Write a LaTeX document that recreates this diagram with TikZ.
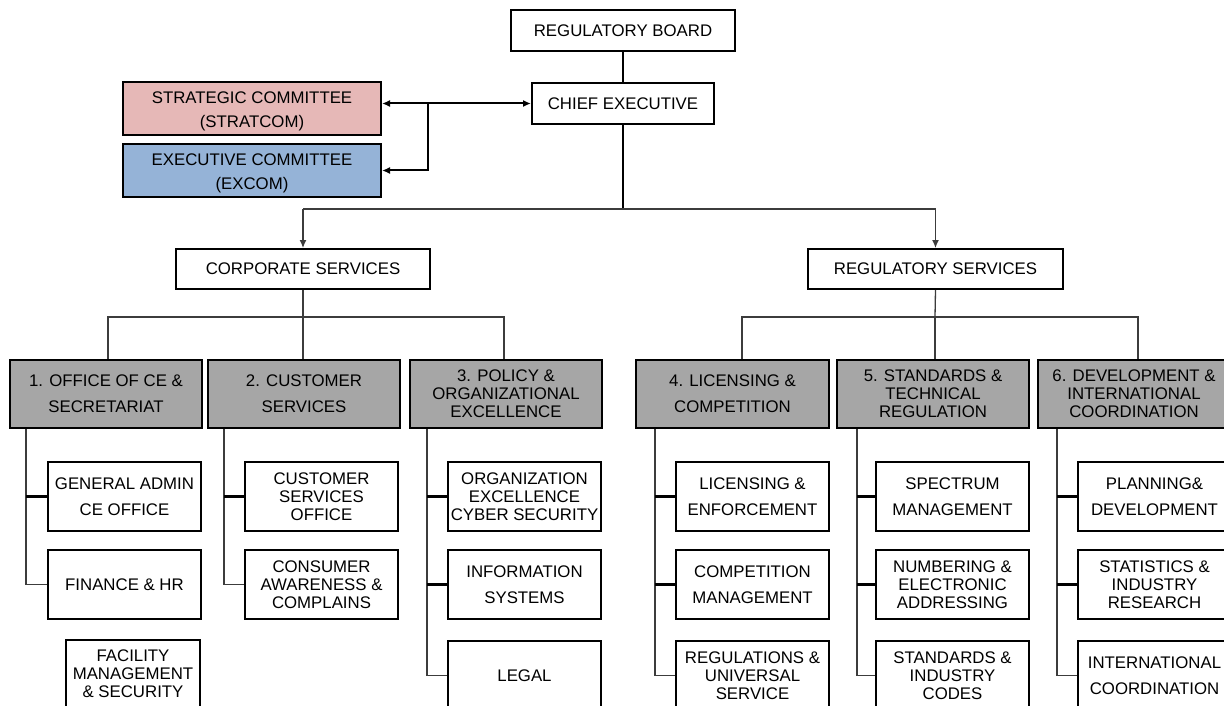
\documentclass[tikz,border=0pt]{standalone}
\usepackage{fontspec}
\setmainfont{Liberation Sans}
\usetikzlibrary{arrows.meta}
\definecolor{unitgray}{HTML}{A6A6A6}
\definecolor{stratpink}{HTML}{E6B8B7}
\definecolor{excomblue}{HTML}{95B3D7}
\definecolor{linegray}{HTML}{3C3C3C}
\newcommand{\boxfont}{\fontsize{16.8}{18}\selectfont}
\tikzset{
  box/.style={draw=black, line width=2pt, fill=white, inner sep=0pt,
              align=center, font=\boxfont, text height=, text depth=},
  unit/.style={box, fill=unitgray, minimum width=192pt, minimum height=68pt},
  sub/.style={box, minimum width=153pt, minimum height=69pt},
  conn/.style={draw=linegray, line width=1.3pt},
  bold/.style={draw=black, line width=2pt},
  stub/.style={draw=black, line width=2.4pt},
  tip/.style={-{Latex[length=8pt,width=7pt]}},
  tips/.style={{Latex[length=8pt,width=7pt]}-{Latex[length=8pt,width=7pt]}}
}
\begin{document}
\begin{tikzpicture}[x=1pt,y=-1pt]
\useasboundingbox (0,0) rectangle (1224,706);
\clip (0,0) rectangle (1224,706);

% top of the chart
\node[box, minimum width=224pt, minimum height=41pt] (rb) at (623,30.5) {REGULATORY BOARD};
\node[box, minimum width=182pt, minimum height=41pt] (ce) at (623,103.5) {CHIEF EXECUTIVE};
\node[box, fill=stratpink, minimum width=258pt, minimum height=53pt] (strat) at (252,108.5)
  {\rule{0pt}{18pt}STRATEGIC COMMITTEE\\[6pt](STRATCOM)};
\node[box, fill=excomblue, minimum width=258pt, minimum height=53pt] (excom) at (252,170.5)
  {\rule{0pt}{18pt}EXECUTIVE COMMITTEE\\[6pt](EXCOM)};

\draw[bold] (rb.south) -- (ce.north);
\coordinate (j) at (428,103.5);
\draw[bold, tips] (strat.east |- ce.west) -- (ce.west);
\draw[bold, tip] (j) |- (excom.east);

% the two service groups
\node[box, minimum width=254pt, minimum height=40pt] (cs) at (303,269) {CORPORATE SERVICES};
\node[box, minimum width=255pt, minimum height=40pt] (rs) at (935.5,269) {REGULATORY SERVICES};

\coordinate (split) at (623,209);
\draw[bold] (ce.south) -- (split);
\draw[conn] (cs.north |- split) -- (rs.north |- split);
\draw[conn, tip] (cs.north |- split) -- (cs.north);
\draw[conn, tip] (rs.north |- split) -- (rs.north);

% departments
\node[unit] (u1) at (106,394) {1. OFFICE OF CE \&\\[8pt]SECRETARIAT};
\node[unit] (u2) at (304,394) {2. CUSTOMER\\[8pt]SERVICES};
\node[unit] (u3) at (506,394) {3. POLICY \&\\ORGANIZATIONAL\\EXCELLENCE};
\node[unit, minimum width=193pt] (u4) at (732.5,394) {4. LICENSING \&\\[8pt]COMPETITION};
\node[unit] (u5) at (933,394) {5. STANDARDS \&\\TECHNICAL\\REGULATION};
\node[unit] (u6) at (1134,394) {6. DEVELOPMENT \&\\INTERNATIONAL\\COORDINATION};

\coordinate (b1) at (108,317);
\coordinate (b2) at (303,317);
\coordinate (b3) at (504,317);
\coordinate (b4) at (742,317);
\coordinate (b5) at (935,317);
\coordinate (b6) at (1138,317);
\draw[conn] (cs.south) -- (b2);
\draw[conn] (rs.south) -- (b5);
\draw[conn] (b1 |- u1.north) |- (b3) -- (b3 |- u3.north);
\draw[conn] (b2) -- (b2 |- u2.north);
\draw[conn] (b4 |- u4.north) |- (b6) -- (b6 |- u6.north);
\draw[conn] (b5) -- (b5 |- u5.north);

% sections
\node[sub] (s1a) at (124.5,496.5) {GENERAL ADMIN\\[8pt]CE OFFICE};
\node[sub] (s1b) at (124.5,584.5) {FINANCE \& HR};
\node[sub, minimum width=134pt] (s1c) at (133,674) {FACILITY\\MANAGEMENT\\\& SECURITY};

\node[sub] (s2a) at (321.5,496.5) {CUSTOMER\\SERVICES\\OFFICE};
\node[sub] (s2b) at (321.5,584.5) {CONSUMER\\AWARENESS \&\\COMPLAINS};

\node[sub] (s3a) at (524.5,496.5) {ORGANIZATION\\EXCELLENCE\\CYBER SECURITY};
\node[sub] (s3b) at (524.5,584.5) {INFORMATION\\[8pt]SYSTEMS};
\node[sub] (s3c) at (524.5,675.5) {LEGAL};

\node[sub] (s4a) at (752.5,496.5) {LICENSING \&\\[8pt]ENFORCEMENT};
\node[sub] (s4b) at (752.5,584.5) {COMPETITION\\[8pt]MANAGEMENT};
\node[sub] (s4c) at (752.5,675.5) {REGULATIONS \&\\UNIVERSAL\\SERVICE};

\node[sub] (s5a) at (952.5,496.5) {SPECTRUM\\[8pt]MANAGEMENT};
\node[sub] (s5b) at (952.5,584.5) {NUMBERING \&\\ELECTRONIC\\ADDRESSING};
\node[sub] (s5c) at (952.5,675.5) {STANDARDS \&\\INDUSTRY\\CODES};

\node[sub] (s6a) at (1154.5,496.5) {PLANNING\&\\[8pt]DEVELOPMENT};
\node[sub] (s6b) at (1154.5,584.5) {STATISTICS \&\\INDUSTRY\\RESEARCH};
\node[sub] (s6c) at (1154.5,675.5) {INTERNATIONAL\\[8pt]COORDINATION};

% spines from each department down to its sections
\coordinate (v1) at (26,0);
\coordinate (v2) at (224,0);
\coordinate (v3) at (427,0);
\coordinate (v4) at (655,0);
\coordinate (v5) at (857,0);
\coordinate (v6) at (1057,0);

\draw[conn] (v1 |- u1.south) |- (s1b.west);
\draw[stub] (v1 |- s1a.west) -- (s1a.west);

\draw[conn] (v2 |- u2.south) |- (s2b.west);
\draw[stub] (v2 |- s2a.west) -- (s2a.west);

\draw[conn] (v3 |- u3.south) |- (s3c.west);
\draw[stub] (v3 |- s3a.west) -- (s3a.west);
\draw[stub] (v3 |- s3b.west) -- (s3b.west);

\draw[conn] (v4 |- u4.south) |- (s4c.west);
\draw[stub] (v4 |- s4a.west) -- (s4a.west);
\draw[stub] (v4 |- s4b.west) -- (s4b.west);

\draw[conn] (v5 |- u5.south) |- (s5c.west);
\draw[stub] (v5 |- s5a.west) -- (s5a.west);
\draw[stub] (v5 |- s5b.west) -- (s5b.west);

\draw[conn] (v6 |- u6.south) |- (s6c.west);
\draw[stub] (v6 |- s6a.west) -- (s6a.west);
\draw[stub] (v6 |- s6b.west) -- (s6b.west);
\end{tikzpicture}
\end{document}
